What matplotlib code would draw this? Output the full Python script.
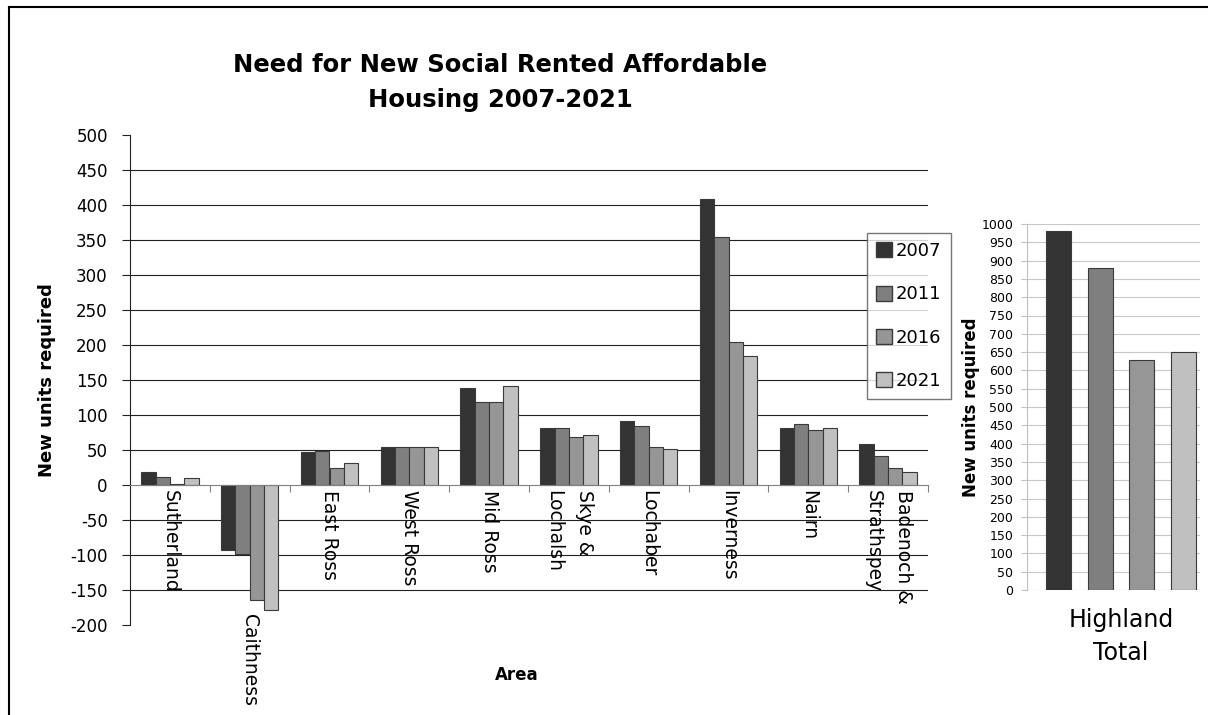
import numpy as np
import matplotlib
matplotlib.use("Agg")
from matplotlib import pyplot as plt, lines as mlines, patches as mpatches

plt.rcParams["axes.unicode_minus"] = False

areas = ["Sutherland", "Caithness", "East Ross", "West Ross", "Mid Ross",
         "Skye &\nLochalsh", "Lochaber", "Inverness", "Nairn", "Badenoch &\nStrathspey"]
years = ["2007", "2011", "2016", "2021"]

need_2007 = [19, -93, 47, 55, 139, 82, 91, 409, 82, 58]
need_2011 = [12, -98, 49, 55, 119, 81, 85, 355, 87, 41]
need_2016 = [1, -164, 24, 54, 118, 68, 55, 204, 78, 24]
need_2021 = [10, -178, 31, 54, 141, 72, 51, 185, 82, 19]

highland_total = [981, 881, 628, 649]

bar_colors = ["#333333", "#7f7f7f", "#969696", "#c0c0c0"]

fig = plt.figure(figsize=(12.08, 7.15), dpi=100)

#
# Main chart by area
#
ax = fig.add_axes([130 / 1208, 90 / 715, 798 / 1208, 490 / 715])
series = [need_2007, need_2011, need_2016, need_2021]
x = np.arange(len(areas))
width = 0.18
for i, vals in enumerate(series):
    ax.bar(x + (i - 1.5) * width, vals, width, color=bar_colors[i],
           edgecolor="#3a3a3a", linewidth=0.8, label=years[i], zorder=3)

ax.set_xlim(-0.5, len(areas) - 0.5)
ax.set_ylim(-200, 500)
ax.set_yticks(np.arange(-200, 501, 50))
for v in np.arange(-150, 451, 50):
    if v != 0:
        ax.axhline(v, color="#222222", linewidth=0.8, zorder=1)

ax.spines["top"].set_visible(False)
ax.spines["right"].set_visible(False)
ax.spines["bottom"].set_position(("data", 0))
ax.spines["bottom"].set_color("#808080")
ax.spines["bottom"].set_zorder(4)
ax.spines["left"].set_color("#222222")

ax.set_xticks(np.arange(0.5, len(areas), 1))
ax.set_xticklabels([])
ax.tick_params(axis="x", direction="out", length=5, color="#808080")
ax.tick_params(axis="y", direction="out", length=6, color="#222222", labelsize=12, pad=10)

# category labels sit just below the lowest bar of each group
for i, name in enumerate(areas):
    low = min(0, min(s[i] for s in series))
    ax.text(i, low - 7, name, rotation=270, ha="center", va="top",
            multialignment="left", fontsize=13.5, linespacing=1.75)

ax.set_ylabel("New units required", fontsize=13, fontweight="bold", labelpad=10)
fig.text(517 / 1208, 1 - 675 / 715, "Area", ha="center", va="center",
         fontsize=12, fontweight="bold")

fig.text(500 / 1208, 1 - 65 / 715, "Need for New Social Rented Affordable",
         ha="center", va="center", fontsize=17.5, fontweight="bold")
fig.text(500 / 1208, 1 - 100 / 715, "Housing 2007-2021",
         ha="center", va="center", fontsize=17.5, fontweight="bold")

patches = [mpatches.Patch(facecolor=c, edgecolor="#3a3a3a", label=y) for c, y in zip(bar_colors, years)]
fig.legend(handles=patches, loc="upper left", bbox_to_anchor=(867 / 1208, 1 - 233 / 715),
           fontsize=13, frameon=True, fancybox=False, edgecolor="#555555",
           handlelength=0.9, handleheight=0.9, handletextpad=0.2,
           labelspacing=1.4, borderpad=0.5, borderaxespad=0)

#
# Highland total
#
ax2 = fig.add_axes([1027 / 1208, 125 / 715, 173 / 1208, 366 / 715])
ax2.bar(np.arange(4), highland_total, 0.6, color=bar_colors,
        edgecolor="#3a3a3a", linewidth=0.8, zorder=3)
ax2.set_xlim(-0.77, 3.4)
ax2.set_ylim(0, 1000)
ax2.set_yticks(np.arange(0, 1001, 50))
ax2.grid(True, axis="y", color="#c8c8c8", linewidth=0.8, zorder=0)
ax2.set_xticks([])
for s in ["top", "right", "bottom"]:
    ax2.spines[s].set_visible(False)
ax2.spines["left"].set_color("#c0c0c0")
ax2.axhline(0, color="#c0c0c0", linewidth=0.8, zorder=1)
ax2.tick_params(axis="y", direction="out", length=4, color="#c0c0c0", labelsize=9, pad=6)
ax2.set_ylabel("New units required", fontsize=12, fontweight="bold", labelpad=1)
fig.text(1121 / 1208, 1 - 620 / 715, "Highland", ha="center", va="center", fontsize=17)
fig.text(1121 / 1208, 1 - 653 / 715, "Total", ha="center", va="center", fontsize=17)

# outer frame (top and left edges only)
fig.add_artist(mlines.Line2D([9 / 1208, 1], [1 - 7 / 715, 1 - 7 / 715], color="black", linewidth=1.5))
fig.add_artist(mlines.Line2D([9 / 1208, 9 / 1208], [0, 1 - 7 / 715], color="black", linewidth=1.5))

plt.savefig("out.png", dpi=100)
